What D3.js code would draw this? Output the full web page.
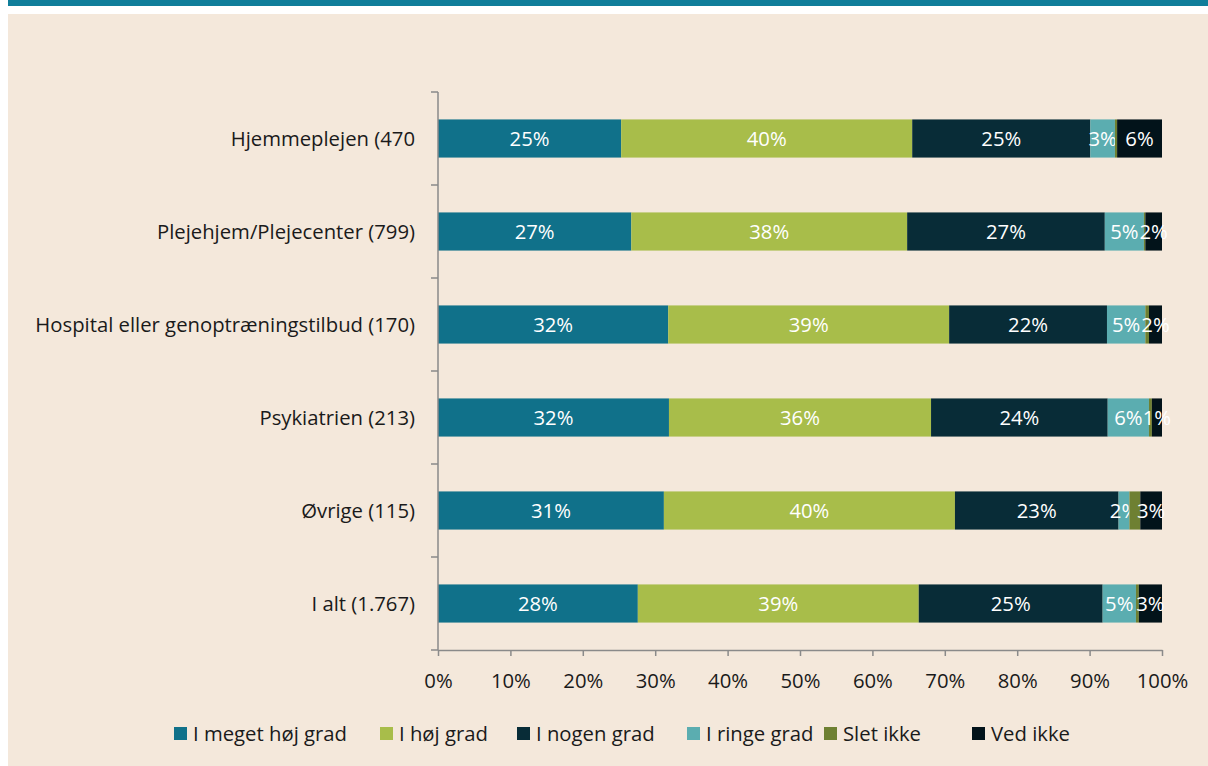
<!DOCTYPE html>
<html>
<head>
<meta charset="utf-8">
<script src="https://cdn.jsdelivr.net/npm/d3@7"></script>
<style>
  body { margin: 0; background: #fff; }
  svg text { font-family: "Open Sans", "Noto Sans", sans-serif; }
</style>
</head>
<body>
<div id="wrapper"></div>
<script>
// data
const categories = [
  "Hjemmeplejen (470",
  "Plejehjem/Plejecenter (799)",
  "Hospital eller genoptræningstilbud (170)",
  "Psykiatrien (213)",
  "Øvrige (115)",
  "I alt (1.767)",
]
const seriesNames = ["I meget høj grad", "I høj grad", "I nogen grad", "I ringe grad", "Slet ikke", "Ved ikke"]
const seriesColors = ["#10718a", "#a8bd4a", "#082c37", "#5badb0", "#6e8032", "#02131a"]
// percentage per category, one array per series
const meget = [25.3, 26.7, 31.8, 31.9, 31.2, 27.6]
const hoej = [40.2, 38.1, 38.8, 36.2, 40.2, 38.8]
const nogen = [24.6, 27.3, 21.8, 24.4, 22.6, 25.4]
const ringe = [3.4, 5.4, 5.3, 5.7, 1.5, 4.6]
const sletIkke = [0.3, 0.2, 0.5, 0.4, 1.5, 0.4]
const vedIkke = [6.2, 2.3, 1.8, 1.4, 3.0, 3.2]
const xTicks = [0, 10, 20, 30, 40, 50, 60, 70, 80, 90, 100]

const seriesValues = [meget, hoej, nogen, ringe, sletIkke, vedIkke]
const table = categories.map((c, i) => {
  const row = { cat: c }
  seriesNames.forEach((s, j) => (row[s] = seriesValues[j][i]))
  return row
})

const dims = { width: 1208, height: 766 }
const plot = { left: 438, right: 1162, top: 92, bottom: 650 }
const fontSize = "20.3px"

const svg = d3
  .select("#wrapper")
  .append("svg")
  .attr("width", dims.width)
  .attr("height", dims.height)
  .style("display", "block")

// frame: stripe + beige panel
svg.append("rect").attr("x", 8).attr("y", 0).attr("width", dims.width - 8).attr("height", 6).attr("fill", "#107e9a")
svg.append("rect").attr("x", 8).attr("y", 14).attr("width", dims.width - 8).attr("height", 752).attr("fill", "#f4e8db")

const xScale = d3.scaleLinear().domain([0, 100]).range([plot.left, plot.right])
const yScale = d3.scaleBand().domain(categories).range([plot.top, plot.bottom]).paddingInner(0.59).paddingOuter(0.295)

const stacked = d3.stack().keys(seriesNames)(table)

const layers = svg
  .append("g")
  .selectAll("g")
  .data(stacked)
  .join("g")
  .attr("fill", (d, i) => seriesColors[i])

layers
  .selectAll("rect")
  .data(d => d)
  .join("rect")
  .attr("x", d => xScale(d[0]))
  .attr("y", d => yScale(d.data.cat))
  .attr("width", d => xScale(d[1]) - xScale(d[0]))
  .attr("height", yScale.bandwidth())

// value labels (none for "Slet ikke")
layers
  .filter((d, i) => i !== 4)
  .selectAll("text")
  .data(d => d)
  .join("text")
  .attr("x", d => (xScale(d[0]) + xScale(d[1])) / 2)
  .attr("y", d => yScale(d.data.cat) + yScale.bandwidth() / 2)
  .attr("dy", "0.35em")
  .attr("text-anchor", "middle")
  .attr("fill", "#fff")
  .style("font-size", fontSize)
  .text(d => Math.round(d[1] - d[0]) + "%")

// axes
const axisColor = "#8a8a8a"
const xAxis = svg
  .append("g")
  .attr("transform", `translate(0,${plot.bottom})`)
  .call(d3.axisBottom(xScale).tickValues(xTicks).tickSize(6).tickSizeOuter(0).tickPadding(18).tickFormat(d => d + "%"))
xAxis.selectAll("line, path").attr("stroke", axisColor).attr("stroke-width", 1.5)
xAxis.selectAll("text").attr("fill", "#1a1a1a").style("font-size", fontSize)

const yAxis = svg.append("g").attr("transform", `translate(${plot.left},0)`)
yAxis
  .append("line")
  .attr("x1", 0).attr("x2", 0)
  .attr("y1", plot.top).attr("y2", plot.bottom)
  .attr("stroke", axisColor).attr("stroke-width", 1.5)
const boundaries = categories.map(c => yScale(c) - (yScale.step() * yScale.paddingInner()) / 2).concat([plot.bottom])
yAxis
  .selectAll(".tk")
  .data(boundaries)
  .join("line")
  .attr("class", "tk")
  .attr("x1", -7).attr("x2", 0)
  .attr("y1", d => d).attr("y2", d => d)
  .attr("stroke", axisColor).attr("stroke-width", 1.5)
yAxis
  .selectAll("text")
  .data(categories)
  .join("text")
  .attr("x", -23)
  .attr("y", d => yScale(d) + yScale.bandwidth() / 2)
  .attr("dy", "0.35em")
  .attr("text-anchor", "end")
  .attr("fill", "#1a1a1a")
  .style("font-size", fontSize)
  .text(d => d)

// legend
const legendX = [174, 380, 517, 687, 824, 972]
const legend = svg
  .append("g")
  .selectAll("g")
  .data(seriesNames)
  .join("g")
  .attr("transform", (d, i) => `translate(${legendX[i]},727)`)
legend.append("rect").attr("width", 13).attr("height", 13).attr("fill", (d, i) => seriesColors[i])
legend
  .append("text")
  .attr("x", 19)
  .attr("y", 6.5)
  .attr("dy", "0.35em")
  .attr("fill", "#1a1a1a")
  .style("font-size", fontSize)
  .text(d => d)
</script>
</body>
</html>
